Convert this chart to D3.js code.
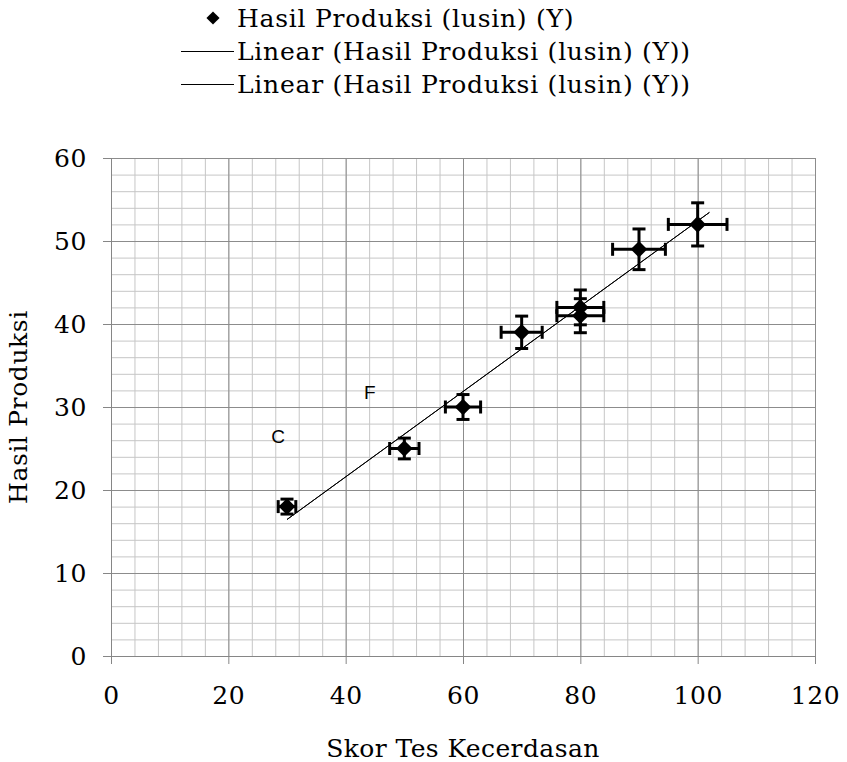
<!DOCTYPE html>
<html>
<head>
<meta charset="utf-8">
<script src="https://cdn.jsdelivr.net/npm/d3@7"></script>
<style>
  body { margin: 0; background: #fff; }
  svg { display: block; }
</style>
</head>
<body>
<svg id="chart" width="847" height="762"></svg>
<script>

// data
var skor = [30, 50, 60, 70, 80, 80, 90, 100];
var hasil = [18, 25, 30, 39, 41, 42, 49, 52];
var errPercent = 0.05;            // error bars are 5% of value on both axes
var xTicks = [0, 20, 40, 60, 80, 100, 120];
var yTicks = [0, 10, 20, 30, 40, 50, 60];
var trendFrom = 30, trendTo = 102;
var noteLabels = ['C', 'F'];
var noteX = [28.5, 44.1];
var noteY = [26.4, 31.8];
var legendLabels = ['Hasil Produksi (lusin) (Y)', 'Linear (Hasil Produksi (lusin) (Y))', 'Linear (Hasil Produksi (lusin) (Y))'];

var serif = "'DejaVu Serif', serif";

var svg = d3.select('#chart');

// plot box (note: "top" is taken by window.top)
var pLeft = 111, pRight = 815, pTop = 158, pBottom = 656;

var x = d3.scaleLinear().domain([0, 120]).range([pLeft, pRight]);
var y = d3.scaleLinear().domain([0, 60]).range([pBottom, pTop]);

// minor grid
var minorX = d3.range(0, 121, 4);
var minorY = d3.range(0, 61, 2);

svg.append('g').selectAll('line').data(minorX).join('line')
    .attr('x1', d => x(d) + 0.5).attr('x2', d => x(d) + 0.5)
    .attr('y1', pTop).attr('y2', pBottom)
    .attr('stroke', '#c6c6c6').attr('stroke-width', 1);
svg.append('g').selectAll('line').data(minorY).join('line')
    .attr('x1', pLeft).attr('x2', pRight)
    .attr('y1', d => y(d) + 0.5).attr('y2', d => y(d) + 0.5)
    .attr('stroke', '#c6c6c6').attr('stroke-width', 1);

// major grid
svg.append('g').selectAll('line').data(xTicks).join('line')
    .attr('x1', d => x(d) + 0.5).attr('x2', d => x(d) + 0.5)
    .attr('y1', pTop).attr('y2', pBottom)
    .attr('stroke', '#8c8c8c').attr('stroke-width', 1);
svg.append('g').selectAll('line').data(yTicks).join('line')
    .attr('x1', pLeft).attr('x2', pRight)
    .attr('y1', d => y(d) + 0.5).attr('y2', d => y(d) + 0.5)
    .attr('stroke', '#8c8c8c').attr('stroke-width', 1);

// axes
var xAxis = svg.append('g')
    .attr('transform', 'translate(0,' + pBottom + ')')
    .call(d3.axisBottom(x).tickValues(xTicks).tickSize(8).tickPadding(22));
var yAxis = svg.append('g')
    .attr('transform', 'translate(' + pLeft + ',0)')
    .call(d3.axisLeft(y).tickValues(yTicks).tickSize(8).tickPadding(16));

[xAxis, yAxis].forEach(function(a) {
    a.select('.domain').attr('stroke', '#868686');
    a.selectAll('.tick line').attr('stroke', '#868686');
    a.selectAll('.tick text')
        .attr('fill', '#000')
        .style('font-family', serif)
        .style('font-size', '25px')
        .style('letter-spacing', '0.6px');
});

// trend line (least squares, like the spreadsheet trendline)
var mx = d3.mean(skor), my = d3.mean(hasil);
var sxy = d3.sum(skor, (d, i) => (d - mx) * (hasil[i] - my));
var sxx = d3.sum(skor, d => (d - mx) * (d - mx));
var slope = sxy / sxx;
var intercept = my - slope * mx;

// two identical trendlines in the legend, drawn twice
for (var k = 0; k < 2; k++) {
    svg.append('line')
        .attr('x1', x(trendFrom)).attr('y1', y(intercept + slope * trendFrom))
        .attr('x2', x(trendTo)).attr('y2', y(intercept + slope * trendTo))
        .attr('stroke', '#000').attr('stroke-width', 1);
}

// error bars
var pts = skor.map((d, i) => ({ x: d, y: hasil[i] }));
var eb = svg.append('g').attr('stroke', '#000').attr('stroke-width', 3);
var cap = 6.5;

pts.forEach(function(p) {
    var ex = p.x * errPercent, ey = p.y * errPercent;
    // horizontal
    eb.append('line')
        .attr('x1', x(p.x - ex)).attr('x2', x(p.x + ex))
        .attr('y1', y(p.y)).attr('y2', y(p.y));
    eb.append('line')
        .attr('x1', x(p.x - ex)).attr('x2', x(p.x - ex))
        .attr('y1', y(p.y) - cap).attr('y2', y(p.y) + cap);
    eb.append('line')
        .attr('x1', x(p.x + ex)).attr('x2', x(p.x + ex))
        .attr('y1', y(p.y) - cap).attr('y2', y(p.y) + cap);
    // vertical
    eb.append('line')
        .attr('x1', x(p.x)).attr('x2', x(p.x))
        .attr('y1', y(p.y - ey)).attr('y2', y(p.y + ey));
    eb.append('line')
        .attr('x1', x(p.x) - cap).attr('x2', x(p.x) + cap)
        .attr('y1', y(p.y - ey)).attr('y2', y(p.y - ey));
    eb.append('line')
        .attr('x1', x(p.x) - cap).attr('x2', x(p.x) + cap)
        .attr('y1', y(p.y + ey)).attr('y2', y(p.y + ey));
});

// diamonds
var diamond = d3.symbol().type(d3.symbolDiamond2).size(175);
svg.append('g').selectAll('path').data(pts).join('path')
    .attr('d', diamond)
    .attr('transform', d => 'translate(' + x(d.x) + ',' + y(d.y) + ')')
    .attr('fill', '#000');

// C / F notes
svg.append('g').selectAll('text').data(noteLabels).join('text')
    .attr('x', (d, i) => x(noteX[i]))
    .attr('y', (d, i) => y(noteY[i]))
    .attr('text-anchor', 'middle')
    .attr('dominant-baseline', 'central')
    .style('font-family', "'Liberation Sans', Arial, sans-serif")
    .style('font-size', '19px')
    .text(d => d);

// axis titles
svg.append('text')
    .attr('x', (pLeft + pRight) / 2).attr('y', 748)
    .attr('text-anchor', 'middle')
    .attr('dominant-baseline', 'central')
    .style('font-family', serif).style('font-size', '25px')
    .style('letter-spacing', '0.4px')
    .text('Skor Tes Kecerdasan');

svg.append('text')
    .attr('transform', 'translate(18,' + (pTop + pBottom) / 2 + ') rotate(-90)')
    .attr('text-anchor', 'middle')
    .attr('dominant-baseline', 'central')
    .style('font-family', serif).style('font-size', '25px')
    .style('letter-spacing', '0.6px')
    .text('Hasil Produksi');

// legend
var legendY = [18, 51, 84];
var leg = svg.append('g');
legendLabels.forEach(function(t, i) {
    if (i == 0) {
        leg.append('path')
            .attr('d', d3.symbol().type(d3.symbolDiamond2).size(110))
            .attr('transform', 'translate(213,' + legendY[i] + ')')
            .attr('fill', '#000');
    } else {
        leg.append('line')
            .attr('x1', 181).attr('x2', 234)
            .attr('y1', legendY[i] + 0.5).attr('y2', legendY[i] + 0.5)
            .attr('stroke', '#000').attr('stroke-width', 1);
    }
    leg.append('text')
        .attr('x', 237).attr('y', legendY[i])
        .attr('dominant-baseline', 'central')
        .style('font-family', serif).style('font-size', '25px')
        .style('letter-spacing', '0.75px')
        .text(t);
});

</script>
</body>
</html>
